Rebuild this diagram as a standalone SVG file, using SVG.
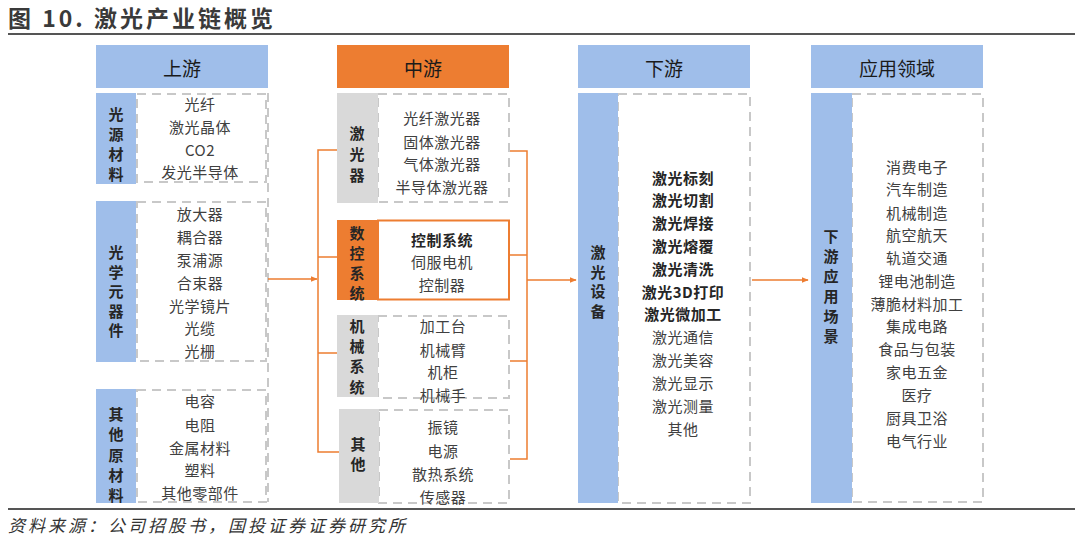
<svg xmlns="http://www.w3.org/2000/svg" width="1080" height="538" viewBox="0 0 1080 538">
<defs>
<style>
.t{font-family:"Noto Sans CJK SC","Noto Sans",sans-serif;font-size:15px;fill:#404040;text-anchor:middle;dominant-baseline:central;letter-spacing:0.5px}
.b{font-weight:bold;fill:#262626}
.l{font-family:"Noto Sans CJK SC","Noto Sans",sans-serif;font-size:15px;font-weight:bold;fill:#262626;text-anchor:middle;dominant-baseline:central}
.h{font-family:"Noto Sans CJK SC","Noto Sans",sans-serif;font-size:19px;fill:#1a1a1a;text-anchor:middle;dominant-baseline:central}
.blue{fill:#9FBEEA}
.gray{fill:#D9D9D9}
.org{fill:#ED7D31}
.dash{fill:none;stroke:#C8C8C8;stroke-width:2;stroke-dasharray:9 6}
.con{fill:none;stroke:#ED7D31;stroke-width:1.5}
</style>
<marker id="ah" viewBox="0 0 10 10" refX="9" refY="5" markerWidth="7" markerHeight="7" orient="auto" markerUnits="userSpaceOnUse">
<path d="M0,1 L10,5 L0,9 z" fill="#ED7D31"/>
</marker>
</defs>
<rect width="1080" height="538" fill="#fff"/>
<g id="title">
<text x="8" y="17" style="font-family:'Noto Sans CJK SC','Noto Sans',sans-serif;font-size:23px;font-weight:bold;fill:#3a3a3a;dominant-baseline:central;letter-spacing:3px">图 10. 激光产业链概览</text>
<line x1="8" y1="34" x2="1075" y2="34" stroke="#555" stroke-width="2"/>
</g>
<g id="headers">
<rect x="96" y="45" width="172" height="43" class="blue"/><text x="182" y="67" class="h">上游</text>
<rect x="337" y="45" width="172" height="43" class="org"/><text x="423" y="67" class="h">中游</text>
<rect x="578" y="45" width="172" height="43" class="blue"/><text x="664" y="67" class="h">下游</text>
<rect x="811" y="45" width="172" height="43" class="blue"/><text x="897" y="67" class="h">应用领域</text>
</g>
<g id="up-light">
<rect x="137" y="94" width="129" height="88" class="dash"/>
<rect x="96" y="93" width="40" height="91" class="blue"/>
<text class="l" x="116" y="113">光</text><text class="l" x="116" y="133">源</text><text class="l" x="116" y="153">材</text><text class="l" x="116" y="173">料</text>
<text class="t" x="200" y="103">光纤</text><text class="t" x="200" y="126">激光晶体</text><text class="t" x="200" y="149">CO2</text><text class="t" x="200" y="171">发光半导体</text>
</g>
<g id="up-optic">
<rect x="137" y="202" width="129" height="159" class="dash"/>
<rect x="96" y="201" width="40" height="161" class="blue"/>
<text class="l" x="116" y="251">光</text><text class="l" x="116" y="271">学</text><text class="l" x="116" y="290">元</text><text class="l" x="116" y="310">器</text><text class="l" x="116" y="329">件</text>
<text class="t" x="200" y="213">放大器</text><text class="t" x="200" y="236">耦合器</text><text class="t" x="200" y="259">泵浦源</text><text class="t" x="200" y="282">合束器</text><text class="t" x="200" y="305">光学镜片</text><text class="t" x="200" y="327">光缆</text><text class="t" x="200" y="350">光栅</text>
</g>
<g id="up-other">
<rect x="137" y="390" width="129" height="112" class="dash"/>
<rect x="96" y="389" width="40" height="114" class="blue"/>
<text class="l" x="116" y="413">其</text><text class="l" x="116" y="433">他</text><text class="l" x="116" y="454">原</text><text class="l" x="116" y="474">材</text><text class="l" x="116" y="494">料</text>
<text class="t" x="200" y="400">电容</text><text class="t" x="200" y="424">电阻</text><text class="t" x="200" y="447">金属材料</text><text class="t" x="200" y="469">塑料</text><text class="t" x="200" y="492">其他零部件</text>
</g>
<g id="up-frame"><line x1="268" y1="93" x2="268" y2="502" class="dash"/></g>
<g id="mid-laser">
<rect x="378" y="94" width="131" height="108" class="dash"/>
<rect x="337" y="93" width="41" height="110" class="gray"/>
<text class="l" x="357" y="132">激</text><text class="l" x="357" y="153">光</text><text class="l" x="357" y="174">器</text>
<text class="t" x="442" y="117">光纤激光器</text><text class="t" x="442" y="141">固体激光器</text><text class="t" x="442" y="163">气体激光器</text><text class="t" x="442" y="186">半导体激光器</text>
</g>
<g id="mid-cnc">
<rect x="337" y="220" width="41" height="80" class="org"/>
<rect x="378" y="220.5" width="131" height="79" fill="#fff" stroke="#ED7D31" stroke-width="2"/>
<text class="l" x="357" y="232">数</text><text class="l" x="357" y="252">控</text><text class="l" x="357" y="272">系</text><text class="l" x="357" y="292">统</text>
<text class="t b" x="442" y="239">控制系统</text><text class="t" x="442" y="261">伺服电机</text><text class="t" x="442" y="284">控制器</text>
</g>
<g id="mid-mech">
<rect x="378" y="316" width="131" height="82" class="dash"/>
<rect x="337" y="315" width="41" height="82" class="gray"/>
<text class="l" x="357" y="325">机</text><text class="l" x="357" y="345">械</text><text class="l" x="357" y="365">系</text><text class="l" x="357" y="386">统</text>
<text class="t" x="443" y="325">加工台</text><text class="t" x="443" y="349">机械臂</text><text class="t" x="443" y="371">机柜</text><text class="t" x="443" y="394">机械手</text>
</g>
<g id="mid-other">
<rect x="379" y="410" width="130" height="93" class="dash"/>
<rect x="339" y="409" width="40" height="94" class="gray"/>
<text class="l" x="358" y="443">其</text><text class="l" x="358" y="463">他</text>
<text class="t" x="443" y="426">振镜</text><text class="t" x="443" y="450">电源</text><text class="t" x="443" y="473">散热系统</text><text class="t" x="443" y="496">传感器</text>
</g>
<g id="down">
<rect x="618" y="94" width="132" height="409" class="dash"/>
<rect x="578" y="93" width="40" height="410" class="blue"/>
<text class="l" x="598" y="251">激</text><text class="l" x="598" y="271">光</text><text class="l" x="598" y="290">设</text><text class="l" x="598" y="310">备</text>
<text class="t b" x="683" y="177">激光标刻</text><text class="t b" x="683" y="199">激光切割</text><text class="t b" x="683" y="222">激光焊接</text><text class="t b" x="683" y="245">激光熔覆</text><text class="t b" x="683" y="268">激光清洗</text><text class="t b" x="683" y="291">激光3D打印</text><text class="t b" x="683" y="313">激光微加工</text>
<text class="t" x="683" y="336">激光通信</text><text class="t" x="683" y="359">激光美容</text><text class="t" x="683" y="382">激光显示</text><text class="t" x="683" y="405">激光测量</text><text class="t" x="683" y="428">其他</text>
</g>
<g id="app">
<rect x="852" y="94" width="131" height="408" class="dash"/>
<rect x="811" y="93" width="41" height="410" class="blue"/>
<text class="l" x="831" y="235">下</text><text class="l" x="831" y="255">游</text><text class="l" x="831" y="275">应</text><text class="l" x="831" y="295">用</text><text class="l" x="831" y="315">场</text><text class="l" x="831" y="335">景</text>
<text class="t" x="917" y="166">消费电子</text><text class="t" x="917" y="188">汽车制造</text><text class="t" x="917" y="212">机械制造</text><text class="t" x="917" y="234">航空航天</text><text class="t" x="917" y="257">轨道交通</text><text class="t" x="917" y="280">锂电池制造</text><text class="t" x="917" y="303">薄脆材料加工</text><text class="t" x="917" y="325">集成电路</text><text class="t" x="917" y="348">食品与包装</text><text class="t" x="917" y="371">家电五金</text><text class="t" x="917" y="394">医疗</text><text class="t" x="917" y="417">厨具卫浴</text><text class="t" x="917" y="440">电气行业</text>
</g>
<g id="connectors">
<line x1="268" y1="279" x2="317" y2="279" class="con" marker-end="url(#ah)"/>
<path d="M337,150 H318 V452 H339 M318,257 H337 M318,353 H337" class="con"/>
<path d="M510,151 H527 V459 H510 M510,255 H527 M510,361 H527" class="con"/>
<line x1="527" y1="280" x2="576" y2="280" class="con" marker-end="url(#ah)"/>
<line x1="752" y1="280" x2="808" y2="280" class="con" marker-end="url(#ah)"/>
</g>
<g id="footer">
<line x1="8" y1="509" x2="1075" y2="509" stroke="#555" stroke-width="2"/>
<text x="8" y="524" style="font-family:'Noto Sans CJK SC','Noto Sans',sans-serif;font-size:17px;font-style:italic;fill:#333;dominant-baseline:central;letter-spacing:3px">资料来源：公司招股书，国投证券证券研究所</text>
</g>
</svg>
